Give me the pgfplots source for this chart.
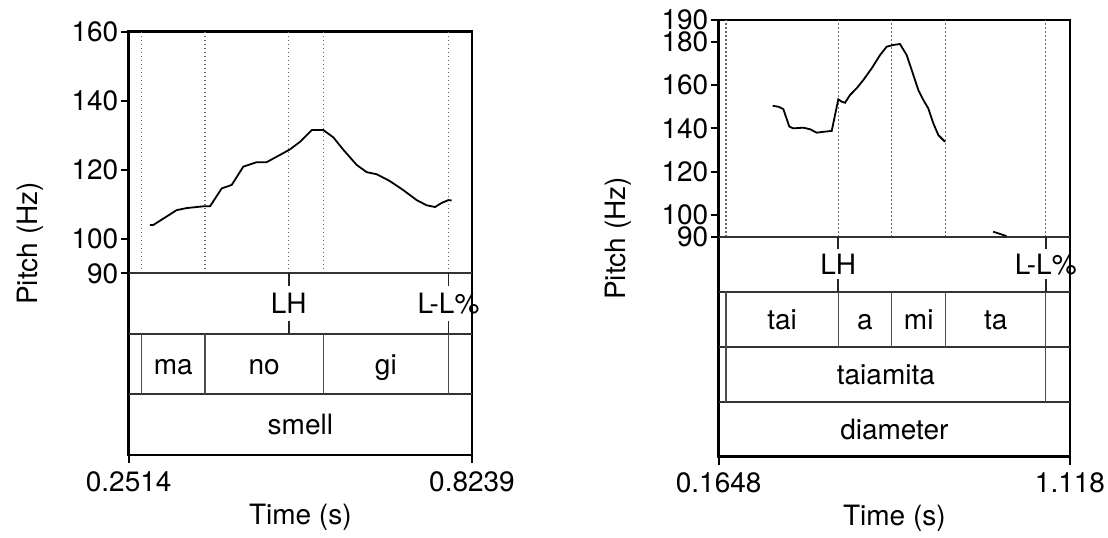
\documentclass[border=0pt]{standalone}
\usepackage{fontspec}
\setmainfont{TeX Gyre Heros}
\usepackage{pgfplots}
\pgfplotsset{compat=1.18}

\pgfplotsset{
  praat/.style={
    scale only axis, clip=false, anchor=south west,
    axis line style={line width=1.4pt},
    tick align=outside, major tick length=4pt,
    tick style={line width=0.9pt, black},
    xtick pos=bottom, ytick pos=left,
    tick label style={font=\fontsize{14pt}{16pt}\selectfont},
    /pgf/number format/assume math mode=true,
    yticklabel style={inner sep=1pt},
    xticklabel style={inner sep=1pt, yshift=-3pt},
    xlabel={Time (s)}, ylabel={Pitch (Hz)},
    every axis y label/.style={at={(axis description cs:-0.287,0.5)}, anchor=center, rotate=90,
      font=\fontsize{14pt}{16pt}\selectfont},
    every axis x label/.style={at={(axis description cs:0.5,0)}, anchor=center, yshift=-31pt,
      font=\fontsize{14pt}{16pt}\selectfont},
  },
}
\tikzset{
  tier/.style={line width=1pt, black!80},
  bnd/.style={line width=0.75pt, black!70},
  tonemark/.style={line width=0.9pt, black!85},
  dots/.style={line width=0.6pt, black!60, dash pattern=on 0.6pt off 1.4pt},
  lbl/.style={anchor=base, inner sep=0pt, font=\fontsize{14pt}{16pt}\selectfont},
}

\begin{document}
\begin{tikzpicture}
\useasboundingbox (0,0) rectangle (554pt,268.5pt);

% left: "smell"
\begin{axis}[praat, at={(64.35pt,41pt)}, width=171.65pt, height=211.65pt,
  xmin=0.2514, xmax=0.8239, ymin=37.35, ymax=160,
  xtick={0.2514,0.8239}, xticklabels={0.2514,0.8239},
  ytick={90,100,120,140,160},
]
  \pgfplotsinvokeforeach{0.2727,0.3786,0.5182,0.5759,0.7847}{
    \draw[dots] (#1,90) -- (#1,160);}
  \draw[tier] (0.2514,90) -- (0.8239,90);
  \draw[tier] (0.2514,72.45) -- (0.8239,72.45);
  \draw[tier] (0.2514,54.9) -- (0.8239,54.9);
  % tones
  \draw[tonemark] (0.5182,90) -- (0.5182,86.2);
  \draw[tonemark] (0.5182,72.45) -- (0.5182,76.25);
  \draw[tonemark] (0.7847,90) -- (0.7847,86.2);
  \draw[tonemark] (0.7847,72.45) -- (0.7847,76.25);
  \node[lbl] at (0.5182,78.3) {LH};
  \node[lbl] at (0.7847,78.3) {L-L\%};
  % syllables
  \pgfplotsinvokeforeach{0.2727,0.3786,0.5759,0.7847}{
    \draw[bnd] (#1,72.45) -- (#1,54.9);}
  \node[lbl] at (0.3257,60.8) {ma};
  \node[lbl] at (0.4773,60.8) {no};
  \node[lbl] at (0.6803,60.8) {gi};
  % word
  \node[lbl] at (0.5377,43.2) {smell};

  \addplot[line width=0.9pt, black, no markers] coordinates {
    (0.2869,104.0) (0.2924,104.0) (0.3314,108.3) (0.3481,108.9) (0.3758,109.4)
    (0.3870,109.4) (0.4065,114.6) (0.4232,115.6) (0.4425,120.9) (0.4649,122.2)
    (0.4815,122.2) (0.5037,124.3) (0.5204,125.9) (0.5371,128.1) (0.5566,131.5)
    (0.5759,131.5) (0.5926,129.4) (0.6093,125.8) (0.6316,121.4) (0.6483,119.3)
    (0.6650,118.7) (0.6871,116.7) (0.7093,114.1) (0.7317,111.2) (0.7484,109.7)
    (0.7622,109.2) (0.7734,110.4) (0.7844,111.2) (0.7900,111.1)};
\end{axis}

% right: "diameter"
\begin{axis}[praat, at={(359.35pt,40.15pt)}, width=175.65pt, height=218.35pt,
  xmin=0.1648, xmax=1.118, ymin=-11.54, ymax=190,
  xtick={0.1648,1.118}, xticklabels={0.1648,1.118},
  ytick={90,100,120,140,160,180,190},
]
  \pgfplotsinvokeforeach{0.1846,0.4893,0.6342,0.7808,1.0521}{
    \draw[dots] (#1,90) -- (#1,190);}
  \draw[tier] (0.1648,90) -- (1.118,90);
  \draw[tier] (0.1648,64.615) -- (1.118,64.615);
  \draw[tier] (0.1648,39.23) -- (1.118,39.23);
  \draw[tier] (0.1648,13.85) -- (1.118,13.85);
  % tones
  \draw[tonemark] (0.4893,90) -- (0.4893,84.2);
  \draw[tonemark] (0.4893,64.615) -- (0.4893,70.4);
  \draw[tonemark] (1.0521,90) -- (1.0521,84.2);
  \draw[tonemark] (1.0521,64.615) -- (1.0521,70.4);
  \node[lbl] at (0.4893,72.7) {LH};
  \node[lbl] at (1.0521,72.7) {L-L\%};
  % syllables
  \pgfplotsinvokeforeach{0.1846,0.4893,0.6342,0.7808,1.0521}{
    \draw[bnd] (#1,64.615) -- (#1,39.23);}
  \node[lbl] at (0.3370,47.3) {tai};
  \node[lbl] at (0.5618,47.3) {a};
  \node[lbl] at (0.7075,47.3) {mi};
  \node[lbl] at (0.9165,47.3) {ta};
  % word
  \pgfplotsinvokeforeach{0.1846,1.0521}{
    \draw[bnd] (#1,39.23) -- (#1,13.85);}
  \node[lbl] at (0.6184,21.9) {taiamita};
  % gloss
  \node[lbl] at (0.6414,-3.45) {diameter};

  \addplot[line width=0.9pt, black, no markers] coordinates {
    (0.3113,150.4) (0.3265,150.0) (0.3401,148.9) (0.3564,140.8) (0.3672,140.0)
    (0.3944,140.3) (0.4125,139.6) (0.4307,138.0) (0.4486,138.4) (0.4714,138.8)
    (0.4893,153.4) (0.4986,152.3) (0.5075,151.8) (0.5211,155.4) (0.5392,158.5)
    (0.5572,162.3) (0.5799,167.7) (0.6025,173.8) (0.6207,177.7) (0.6386,178.5)
    (0.6567,178.9) (0.6749,173.8) (0.6885,166.9) (0.7064,157.7) (0.7200,153.1)
    (0.7335,149.2) (0.7471,142.3) (0.7607,136.9) (0.7788,133.8)};
  \addplot[line width=0.9pt, black, no markers] coordinates {
    (0.9095,92.3) (0.9456,90.3)};
\end{axis}
\end{tikzpicture}
\end{document}
